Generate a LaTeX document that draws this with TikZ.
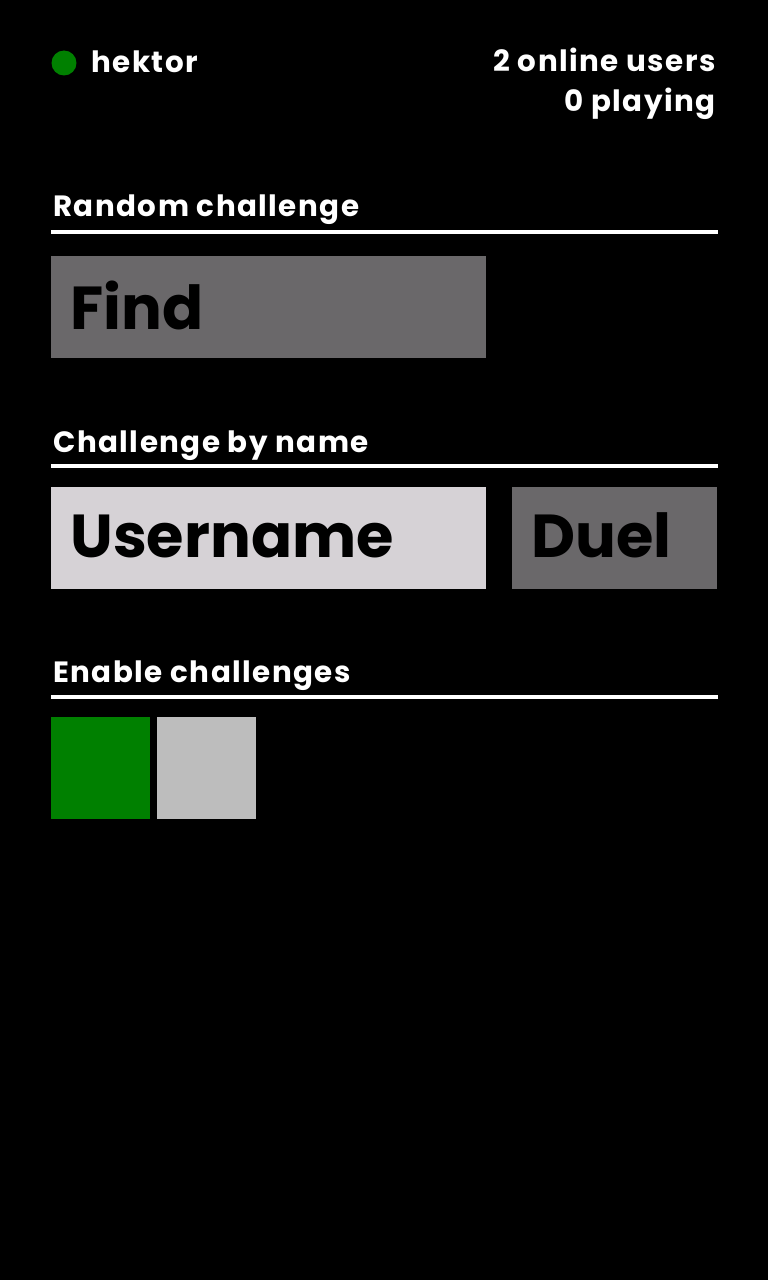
\documentclass[tikz,border=0pt]{standalone}
\usepackage{fontspec}
\setmainfont{Poppins}
\newfontfamily\labelfont[LetterSpace=5]{Poppins}
\usepackage{tikz}
\usetikzlibrary{positioning}
\definecolor{btngray}{RGB}{106,104,106}
\definecolor{fieldgray}{RGB}{214,210,214}
\definecolor{offgray}{RGB}{189,189,189}
\definecolor{ongreen}{RGB}{0,128,0}
\tikzset{
  label/.style = {text=white, font=\labelfont\fontsize{16.7}{20}\selectfont\bfseries, inner sep=0pt},
  bigtext/.style = {text=black, font=\fontsize{34.5}{40}\selectfont\bfseries, inner sep=0pt},
  box/.style = {rectangle, inner sep=0pt, draw=none},
  rule/.style = {white, line width=2.3pt}
}
\begin{document}
\begin{tikzpicture}[x=0.02cm, y=-0.02cm]
    \fill [black] (0,0) rectangle (768,1280);
    \useasboundingbox (0,0) rectangle (768,1280);

    \node [circle, fill=ongreen, minimum size=0.5cm, inner sep=0pt] (dot) at (64,63) {};
    \node [label, anchor=base west] (user) at (91,73) {hektor};
    \node [label, anchor=base east] (online) at (716,72) {2 online users};
    \node [label, anchor=base east] (playing) at (716,112) {0 playing};

    \node [label, anchor=base west] (random) at (53,217) {Random challenge};
    \coordinate (r1) at (51,232);
    \coordinate (r2) at (718,232);
    \draw [rule] (r1) -- (r2);
    \node [box, fill=btngray, minimum width=8.7cm, minimum height=2.04cm] (find) at (268.5,307) {};
    \node [bigtext, anchor=base west] (findtxt) at (70,329) {Find};

    \node [label, anchor=base west] (byname) at (53,452) {Challenge by name};
    \coordinate (n1) at (51,466);
    \coordinate (n2) at (718,466);
    \draw [rule] (n1) -- (n2);
    \node [box, fill=fieldgray, minimum width=8.7cm, minimum height=2.04cm] (field) at (268.5,538) {};
    \node [bigtext, anchor=base west] (fieldtxt) at (70,557) {Username};
    \node [box, fill=btngray, minimum width=4.1cm, minimum height=2.04cm] (duel) at (614.5,538) {};
    \node [bigtext, anchor=base west] (dueltxt) at (531,557) {Duel};

    \node [label, anchor=base west] (enable) at (53,682) {Enable challenges};
    \coordinate (e1) at (51,697);
    \coordinate (e2) at (718,697);
    \draw [rule] (e1) -- (e2);
    \node [box, fill=ongreen, minimum width=1.98cm, minimum height=2.04cm] (on) at (100.5,768) {};
    \node [box, fill=offgray, minimum width=1.98cm, minimum height=2.04cm] (off) at (206.5,768) {};
\end{tikzpicture}
\end{document}
